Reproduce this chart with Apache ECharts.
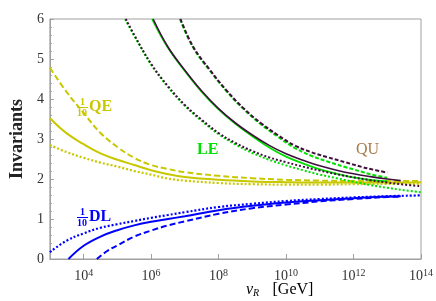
<!DOCTYPE html>
<html><head><meta charset="utf-8">
<script src="https://cdn.jsdelivr.net/npm/echarts@6/dist/echarts.min.js"></script>
<style>html,body{margin:0;padding:0;background:#fff}#c{width:436px;height:301px}</style>
</head><body><div id="c"></div>
<script>
// x values are log10(v_R / GeV)
const xTickExps = [4, 6, 8, 10, 12, 14];
const yTicks = [0, 1, 2, 3, 4, 5, 6];

// (1/10) QE  (yellow)
const qeSolidX = [3, 3.5, 4, 4.5, 5, 5.5, 6, 6.5, 7, 8, 9, 10, 11, 12, 13, 14];
const qeSolidY = [3.52, 3.14, 2.87, 2.64, 2.48, 2.35, 2.22, 2.12, 2.05, 1.98, 1.94, 1.92, 1.91, 1.91, 1.91, 1.92];
const qeDashX = [3, 3.5, 4, 4.5, 5, 5.5, 6, 6.5, 7, 8, 9, 10, 11, 12, 13, 14];
const qeDashY = [4.78, 4.17, 3.65, 3.15, 2.8, 2.53, 2.35, 2.25, 2.17, 2.08, 2.02, 1.98, 1.96, 1.95, 1.95, 1.95];
const qeDotX = [3, 3.5, 4, 4.5, 5, 5.5, 6, 6.5, 7, 8, 9, 10, 11, 12, 13, 14];
const qeDotY = [2.85, 2.67, 2.53, 2.41, 2.31, 2.2, 2.11, 2.01, 1.96, 1.9, 1.87, 1.86, 1.86, 1.87, 1.88, 1.88];

// (1/10) DL  (blue)
const dlSolidX = [3.55, 4, 4.5, 5, 5.5, 6, 6.5, 7, 8, 9, 10, 11, 12, 13, 13.4];
const dlSolidY = [0, 0.33, 0.56, 0.72, 0.84, 0.93, 1.0, 1.07, 1.22, 1.33, 1.41, 1.47, 1.52, 1.56, 1.57];
const dlDashX = [4.39, 4.7, 5, 5.5, 6, 6.5, 7, 8, 9, 10, 11, 12, 13, 13.4];
const dlDashY = [0, 0.2, 0.34, 0.56, 0.71, 0.84, 0.94, 1.13, 1.27, 1.36, 1.44, 1.5, 1.55, 1.56];
const dlDotX = [3, 3.5, 4, 4.5, 5, 5.5, 6, 6.5, 7, 8, 9, 10, 11, 12, 13, 14];
const dlDotY = [0.17, 0.46, 0.64, 0.78, 0.87, 0.95, 1.03, 1.1, 1.17, 1.3, 1.38, 1.45, 1.5, 1.54, 1.57, 1.59];

// LE  (green)
const leSolidX = [6.03, 6.5, 7, 7.5, 8, 8.5, 9, 9.5, 10, 10.5, 11, 11.5, 12, 12.5, 13];
const leSolidY = [6.0, 5.28, 4.7, 4.18, 3.74, 3.38, 3.07, 2.79, 2.56, 2.39, 2.24, 2.13, 2.04, 1.98, 1.94];
const leDashX = [6.85, 7.25, 7.75, 8.25, 8.75, 9.25, 9.75, 10.25, 10.75, 11.25, 11.75, 12.25, 12.5, 13];
const leDashY = [6.0, 5.28, 4.7, 4.18, 3.74, 3.37, 3.06, 2.78, 2.58, 2.43, 2.3, 2.18, 2.12, 2.03];
const leDotX = [5.23, 5.5, 6, 6.5, 7, 7.5, 8, 8.5, 9, 9.5, 10, 10.5, 11, 11.5, 12, 12.5, 13, 13.5, 14];
const leDotY = [6.0, 5.58, 4.86, 4.3, 3.83, 3.45, 3.12, 2.86, 2.65, 2.48, 2.34, 2.22, 2.11, 2.02, 1.93, 1.85, 1.78, 1.72, 1.67];

// QU  (dark purple)
const quSolidX = [6.06, 6.5, 7, 7.5, 8, 8.5, 9, 9.5, 10, 10.5, 11, 11.5, 12, 12.5, 13, 13.4];
const quSolidY = [6.0, 5.3, 4.72, 4.2, 3.76, 3.4, 3.1, 2.84, 2.63, 2.47, 2.33, 2.22, 2.13, 2.06, 2.0, 1.96];
const quDashX = [6.87, 7.25, 7.75, 8.25, 8.75, 9.25, 9.75, 10.25, 10.75, 11.25, 11.75, 12.25, 12.5, 13];
const quDashY = [6.0, 5.3, 4.72, 4.2, 3.76, 3.4, 3.1, 2.84, 2.67, 2.54, 2.42, 2.3, 2.25, 2.16];
const quDotX = [5.25, 5.5, 6, 6.5, 7, 7.5, 8, 8.5, 9, 9.5, 10, 10.5, 11, 11.5, 12, 12.5, 13, 13.5, 14];
const quDotY = [6.0, 5.6, 4.88, 4.32, 3.85, 3.48, 3.15, 2.9, 2.7, 2.54, 2.42, 2.31, 2.21, 2.12, 2.04, 1.97, 1.91, 1.86, 1.82];

const C_QE = '#c8c800', C_DL = '#0000ff', C_LE = '#00e000', C_QU = '#40103c';
const SERIF = 'Liberation Serif';

function pts(xs, ys) { return xs.map((x, i) => [x, ys[i]]); }
function line(name, xs, ys, color, type, width) {
  return {
    name, type: 'line', data: pts(xs, ys), showSymbol: false, smooth: 0.4,
    clip: true, silent: true,
    lineStyle: { color, width, type, cap: 'butt' }
  };
}
const DASH_Y = [6, 3], DOT = [2, 2], DASH_P = [4, 2];

const chart = echarts.init(document.getElementById('c'), null, { renderer: 'canvas' });
chart.setOption({
  animation: false,
  backgroundColor: '#fff',
  grid: { left: 44, right: 11, top: 19, bottom: 42, show: true, borderColor: '#a0a0a0', borderWidth: 1 },
  xAxis: {
    type: 'value', min: 3, max: 14, interval: 1,
    axisLine: { show: true, lineStyle: { color: '#a0a0a0', width: 1 } },
    axisTick: { show: true, inside: true, length: 5, customValues: xTickExps, lineStyle: { color: '#a0a0a0' } },
    axisLabel: {
      customValues: xTickExps, margin: 9,
      formatter: v => '{b|10}{s|' + v + '}',
      rich: {
        b: { fontFamily: SERIF, fontSize: 14, color: '#333' },
        s: { fontFamily: SERIF, fontSize: 10, color: '#333', verticalAlign: 'top', padding: [0, 0, 7, 0] }
      }
    },
    splitLine: { show: false }
  },
  yAxis: {
    type: 'value', min: 0, max: 6, interval: 1,
    name: 'Invariants', nameLocation: 'middle', nameGap: 23, nameRotate: 90,
    nameTextStyle: { fontFamily: SERIF, fontSize: 18, fontWeight: 'bold', color: '#222' },
    axisLine: { show: true, lineStyle: { color: '#a0a0a0', width: 1 } },
    axisTick: { show: true, inside: true, length: 4, lineStyle: { color: '#a0a0a0' } },
    minorTick: { show: true, splitNumber: 5, length: 2, lineStyle: { color: '#a0a0a0' } },
    axisLabel: { fontFamily: SERIF, fontSize: 14, color: '#333', margin: 6, formatter: v => yTicks.includes(v) ? String(v) : '' },
    splitLine: { show: false }
  },
  series: [
    line('QE solid', qeSolidX, qeSolidY, C_QE, 'solid', 2),
    line('QE dashed', qeDashX, qeDashY, C_QE, DASH_Y, 2),
    line('QE dotted', qeDotX, qeDotY, C_QE, DOT, 2.2),
    line('DL solid', dlSolidX, dlSolidY, C_DL, 'solid', 2),
    line('DL dashed', dlDashX, dlDashY, C_DL, DASH_Y, 2),
    line('DL dotted', dlDotX, dlDotY, C_DL, DOT, 2.2),
    line('LE solid', leSolidX, leSolidY, C_LE, 'solid', 1.8),
    line('LE dashed', leDashX, leDashY, C_LE, DASH_P, 2),
    line('LE dotted', leDotX, leDotY, C_LE, DOT, 2),
    line('QU solid', quSolidX, quSolidY, C_QU, 'solid', 1.6),
    line('QU dashed', quDashX, quDashY, C_QU, DASH_P, 2),
    line('QU dotted', quDotX, quDotY, C_QU, DOT, 2)
  ],
  graphic: [
    // 1/10 QE
    { type: 'text', left: 80, top: 97, style: { text: '1', font: 'bold 10px ' + SERIF, fill: C_QE } },
    { type: 'line', shape: { x1: 77, y1: 107.5, x2: 88, y2: 107.5 }, style: { stroke: C_QE, lineWidth: 1 } },
    { type: 'text', left: 77, top: 108, style: { text: '10', font: 'bold 10px ' + SERIF, fill: C_QE } },
    { type: 'text', left: 89, top: 99, style: { text: 'QE', font: 'bold 16px ' + SERIF, fill: C_QE } },
    // 1/10 DL
    { type: 'text', left: 80, top: 207, style: { text: '1', font: 'bold 10px ' + SERIF, fill: C_DL } },
    { type: 'line', shape: { x1: 77, y1: 217.5, x2: 88, y2: 217.5 }, style: { stroke: C_DL, lineWidth: 1 } },
    { type: 'text', left: 77, top: 218, style: { text: '10', font: 'bold 10px ' + SERIF, fill: C_DL } },
    { type: 'text', left: 89, top: 209, style: { text: 'DL', font: 'bold 16px ' + SERIF, fill: C_DL } },
    // LE, QU
    { type: 'text', left: 197, top: 142, style: { text: 'LE', font: 'bold 16px ' + SERIF, fill: C_LE } },
    { type: 'text', left: 356, top: 142, style: { text: 'QU', font: '16px ' + SERIF, fill: '#a87a48' } },
    // x-axis title
    { type: 'text', left: 246, top: 282, style: {
      text: '{v|v}{r|R}    {g|[GeV]}',
      rich: {
        v: { fontFamily: SERIF, fontStyle: 'italic', fontSize: 16, color: '#333' },
        r: { fontFamily: SERIF, fontStyle: 'italic', fontSize: 10, color: '#333', verticalAlign: 'bottom', padding: [6, 0, 0, 0] },
        g: { fontFamily: SERIF, fontSize: 16, color: '#333' }
      }
    } }
  ]
});
</script></body></html>
